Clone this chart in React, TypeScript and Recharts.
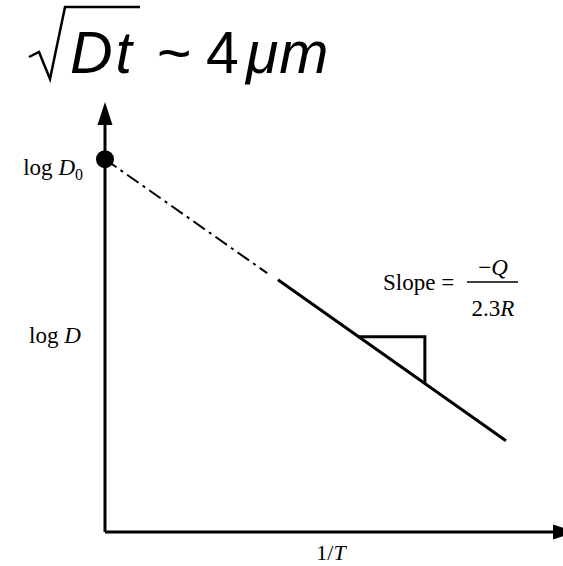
import React from "react";
import {
  ComposedChart,
  Line,
  Scatter,
  XAxis,
  YAxis,
  Customized,
} from "recharts";

// Arrhenius plot: log D against 1/T (arbitrary units, 0-100)
const logD0 = 91.6;
const invTExtrap = [0, 36.2];
const logDExtrap = [91.6, 63.6];
const invTFit = [38.6, 89.5];
const logDFit = [62.0, 22.4];
const invTTri = [56.5, 71.4, 71.4];
const logDTri = [48.0, 48.0, 36.4];

const zip = (xs: number[], ys: number[]) => xs.map((x, i) => ({ x, y: ys[i] }));

const extrapData = zip(invTExtrap, logDExtrap);
const fitData = zip(invTFit, logDFit);
const triData = zip(invTTri, logDTri);
const interceptData = [{ x: 0, y: logD0 }];

const SERIF = "'Liberation Serif', 'DejaVu Serif', serif";
const SANS = "'Liberation Sans', Arial, sans-serif";

const Arrows = () => (
  <defs>
    <marker
      id="arrowHead"
      markerUnits="userSpaceOnUse"
      markerWidth={24}
      markerHeight={16}
      refX={0}
      refY={8}
      orient="auto-start-reverse"
    >
      <path d="M0,0.5 L23,8 L0,15.5 z" fill="#000" />
    </marker>
  </defs>
);

const Annotations = () => (
  <g>
    {/* title: square-root sign with vinculum */}
    <path
      d="M29,57 L39,52 L50,79 L65,7 L140,7"
      fill="none"
      stroke="#000"
      strokeWidth={2.5}
      strokeLinejoin="miter"
    />
    <text fontFamily={SANS} fontSize={59} y={73}>
      <tspan x={70} fontStyle="italic" letterSpacing={3}>Dt</tspan>
      <tspan x={157}>~</tspan>
      <tspan x={206}>4</tspan>
      <tspan x={246} fontStyle="italic" letterSpacing={1}>μm</tspan>
    </text>

    {/* axis titles */}
    <text x={29} y={343} fontFamily={SERIF} fontSize={23}>
      log <tspan fontStyle="italic">D</tspan>
    </text>
    <text x={331} y={560} textAnchor="middle" fontFamily={SERIF} fontSize={22}>
      1/<tspan fontStyle="italic">T</tspan>
    </text>

    {/* slope label */}
    <text x={383} y={290} fontFamily={SERIF} fontSize={23}>
      Slope =
    </text>
    <text x={493} y={275} textAnchor="middle" fontFamily={SERIF} fontSize={23}>
      −<tspan fontStyle="italic">Q</tspan>
    </text>
    <line x1={467} y1={282} x2={518} y2={282} stroke="#000" strokeWidth={1.5} />
    <text x={493} y={316} textAnchor="middle" fontFamily={SERIF} fontSize={23}>
      2.3<tspan fontStyle="italic">R</tspan>
    </text>
  </g>
);

const InterceptTick = (props: any) => {
  const { x, y } = props;
  return (
    <text x={x - 14} y={y + 16} textAnchor="end" fontFamily={SERIF} fontSize={23} fill="#000">
      log <tspan fontStyle="italic">D</tspan>
      <tspan fontSize={16} dy={5}>0</tspan>
    </text>
  );
};

export default function App() {
  return (
    <div style={{ position: "absolute", left: 0, top: 0, width: 563, height: 566, background: "#fff" }}>
      <ComposedChart
        width={563}
        height={566}
        margin={{ top: 125, right: 10, bottom: 0, left: 0 }}
      >
        <Customized component={Arrows} />
        <XAxis
          type="number"
          dataKey="x"
          domain={[0, 100]}
          height={34}
          tick={false}
          tickLine={false}
          axisLine={{ stroke: "#000", strokeWidth: 3, markerEnd: "url(#arrowHead)" }}
        />
        <YAxis
          type="number"
          dataKey="y"
          domain={[0, 100]}
          width={105}
          ticks={[logD0]}
          tick={<InterceptTick />}
          tickLine={false}
          axisLine={{ stroke: "#000", strokeWidth: 3, markerStart: "url(#arrowHead)" }}
        />
        <Line
          data={extrapData}
          dataKey="y"
          type="linear"
          stroke="#000"
          strokeWidth={2}
          strokeDasharray="14 5 3 5"
          dot={false}
          isAnimationActive={false}
        />
        <Line
          data={fitData}
          dataKey="y"
          type="linear"
          stroke="#000"
          strokeWidth={3}
          dot={false}
          isAnimationActive={false}
        />
        <Line
          data={triData}
          dataKey="y"
          type="linear"
          stroke="#000"
          strokeWidth={3}
          dot={false}
          isAnimationActive={false}
        />
        <Scatter
          data={interceptData}
          dataKey="y"
          fill="#000"
          isAnimationActive={false}
          shape={(p: any) => <circle cx={p.cx} cy={p.cy} r={9} fill="#000" />}
        />
        <Customized component={Annotations} />
      </ComposedChart>
    </div>
  );
}
